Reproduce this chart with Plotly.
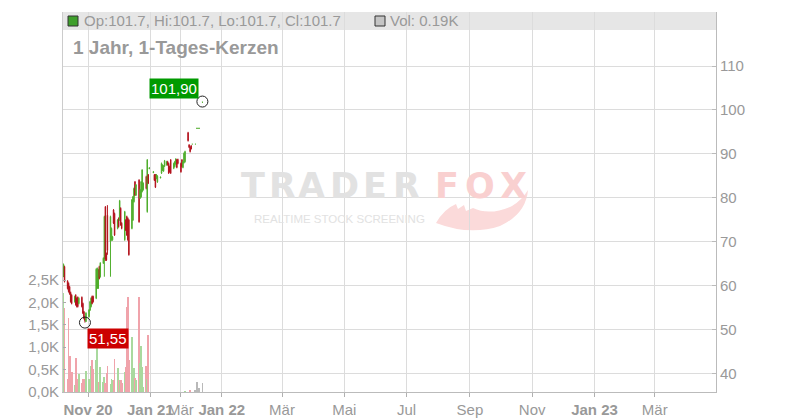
import plotly.graph_objects as go

# ---------------- data ----------------
dates = [
    "2020-10-08", "2020-10-09", "2020-10-12", "2020-10-13", "2020-10-14", "2020-10-15", "2020-10-16",
    "2020-10-19", "2020-10-20", "2020-10-21", "2020-10-22", "2020-10-23",
    "2020-10-26", "2020-10-27", "2020-10-28", "2020-10-29", "2020-10-30",
    "2020-11-02", "2020-11-03", "2020-11-04", "2020-11-05", "2020-11-06",
    "2020-11-09", "2020-11-10", "2020-11-11", "2020-11-12", "2020-11-13",
    "2020-11-16", "2020-11-17", "2020-11-18", "2020-11-19", "2020-11-20",
    "2020-11-23", "2020-11-24", "2020-11-25", "2020-11-26", "2020-11-27",
    "2020-11-30", "2020-12-01", "2020-12-02", "2020-12-03", "2020-12-04",
    "2020-12-07", "2020-12-08", "2020-12-09", "2020-12-10", "2020-12-11",
    "2020-12-14", "2020-12-15", "2020-12-16", "2020-12-17", "2020-12-18",
    "2020-12-21", "2020-12-22", "2020-12-23", "2020-12-24", "2020-12-25",
    "2020-12-28", "2020-12-29", "2020-12-30", "2020-12-31",
    "2021-01-04", "2021-01-05", "2021-01-06", "2021-01-07", "2021-01-08",
    "2021-01-11", "2021-01-12", "2021-01-13", "2021-01-14", "2021-01-15",
    "2021-02-15", "2021-02-16", "2021-02-17", "2021-02-18", "2021-02-19",
    "2021-02-22", "2021-02-23", "2021-02-24", "2021-02-25", "2021-02-26",
    "2021-03-01", "2021-03-02", "2021-03-03", "2021-03-04", "2021-03-05",
    "2021-03-08", "2021-03-09", "2021-03-10", "2021-03-11", "2021-03-12",
    "2021-03-15", "2021-03-16", "2021-03-17", "2021-03-18", "2021-03-19",
    "2021-03-22",
]

open_ = [
    62.2, 64.3, 61.0, 60.5, 59.7, 58.4, 57.8,
    56.3, 57.8, 57.1, 57.3, 55.9,
    57.3, 55.9, 54.0, 52.8, 51.8,
    52.9, 54.4, 55.2, 57.5, 57.5,
    57.1, 59.4, 59.4, 64.3, 62.0,
    65.1, 66.0, 77.9, 67.3, 76.0,
    70.0, 70.4, 70.4, 77.2, 76.4,
    73.0, 75.3, 74.9, 77.6, 74.2,
    70.4, 74.9, 75.7, 75.3, 74.9,
    73.0, 74.9, 79.1, 83.6, 80.6,
    84.0, 79.9, 80.2, 81.4, 81.8,
    84.8, 76.8, 85.2, 86.6,
    85.7, 85.2, 85.2, 84.4, 83.6,
    84.5, 85.6, 86.3, 86.1, 87.2,
    87.5, 88.2, 87.8, 87.1, 88.6,
    86.7, 87.1, 87.7, 88.6, 88.7,
    87.8, 88.6, 86.9, 88.0, 88.2,
    94.8, 92.0, 91.5, 91.8, 92.2,
    92.2, 95.8, 95.8, 95.8, 95.8,
    101.7,
]
high = [
    65.0, 64.5, 61.2, 60.7, 59.9, 58.6, 58.0,
    57.7, 58.0, 57.3, 57.5, 57.3,
    57.5, 56.1, 54.2, 53.0, 53.9,
    54.6, 56.5, 57.3, 57.7, 57.7,
    63.9, 64.1, 63.8, 64.5, 65.3,
    66.4, 75.9, 78.1, 67.5, 78.3,
    75.9, 73.2, 71.3, 77.4, 76.6,
    75.1, 75.5, 79.5, 77.8, 74.4,
    77.0, 75.1, 75.9, 75.5, 75.1,
    79.7, 80.4, 82.3, 83.8, 83.1,
    84.2, 82.0, 83.8, 86.5, 83.5,
    85.0, 88.8, 85.4, 86.9,
    86.0, 85.4, 85.4, 85.4, 85.1,
    84.8, 88.0, 87.6, 87.4, 88.6,
    88.4, 88.4, 88.0, 87.3, 88.8,
    88.0, 88.4, 89.0, 88.8, 88.9,
    88.0, 88.8, 88.4, 90.3, 90.7,
    95.0, 92.2, 91.7, 92.0, 92.2,
    92.2, 95.8, 95.8, 95.8, 95.8,
    101.9,
]
low = [
    61.9, 60.7, 59.1, 58.4, 57.9, 56.1, 55.7,
    56.1, 55.4, 55.0, 55.0, 55.7,
    55.0, 53.5, 52.3, 51.55, 51.7,
    52.7, 54.2, 55.0, 55.7, 56.1,
    56.9, 59.2, 59.2, 61.4, 61.8,
    64.9, 62.0, 65.6, 65.6, 67.0,
    62.0, 70.2, 70.2, 74.0, 71.3,
    72.8, 73.2, 74.7, 73.6, 72.8,
    70.2, 72.4, 71.3, 70.2, 66.8,
    72.8, 74.7, 78.9, 80.4, 80.4,
    74.3, 79.7, 80.0, 81.2, 81.6,
    81.9, 76.6, 83.1, 86.5,
    85.6, 83.8, 82.2, 84.2, 83.4,
    84.4, 85.4, 86.1, 85.9, 87.0,
    87.3, 87.3, 85.4, 85.7, 85.4,
    86.5, 86.9, 87.5, 86.7, 87.6,
    85.7, 86.9, 86.7, 87.8, 88.0,
    92.8, 91.3, 90.3, 91.0, 92.2,
    92.2, 95.8, 95.8, 95.8, 95.8,
    101.7,
]
close = [
    64.8, 60.9, 59.3, 58.6, 58.1, 56.3, 55.9,
    57.5, 55.6, 55.2, 55.2, 57.1,
    55.2, 53.7, 52.5, 52.0, 53.7,
    54.4, 56.3, 57.1, 55.9, 56.3,
    63.7, 63.9, 63.6, 61.6, 65.1,
    66.2, 75.7, 66.0, 65.8, 68.0,
    75.7, 73.0, 71.1, 74.2, 71.5,
    74.9, 73.4, 79.3, 73.8, 73.0,
    76.8, 72.6, 71.5, 70.4, 67.0,
    79.5, 80.2, 82.1, 80.6, 82.9,
    74.5, 81.8, 83.6, 86.3, 83.3,
    82.1, 88.6, 83.3, 86.8,
    85.9, 84.0, 82.4, 85.2, 84.9,
    84.7, 87.8, 87.4, 87.2, 88.4,
    88.2, 87.5, 85.6, 85.9, 85.6,
    87.8, 88.2, 88.8, 86.9, 87.8,
    85.9, 87.1, 88.2, 90.1, 90.5,
    93.0, 91.5, 90.5, 91.1, 92.2,
    92.2, 95.8, 95.8, 95.8, 95.8,
    101.7,
]
volume = [
    2200, 1870, 290, 1650, 800, 290, 450,
    150, 770, 105, 290, 395,
    193, 290, 268, 298, 476,
    290, 89, 580, 714, 513,
    714, 1400, 119, 223, 551,
    231, 327, 193, 432, 588,
    171, 300, 268, 268, 744,
    528, 268, 268, 268, 200,
    454, 565, 1890, 2113, 714,
    1235, 300, 543, 305, 268,
    2128, 640, 1027, 565, 120,
    580, 290, 1272, 0,
    0, 0, 0, 0, 0,
    0, 0, 0, 0, 0,
    0, 0, 0, 0, 0,
    0, 0, 0, 0, 0,
    0, 0, 0, 0, 20,
    0, 0, 30, 0, 0,
    45, 0, 225, 45, 97,
    190,
]

vol_ticks = [0, 500, 1000, 1500, 2000, 2500]
vol_ticktext = ["0,0K", "0,5K", "1,0K", "1,5K", "2,0K", "2,5K"]
price_ticks = [40, 50, 60, 70, 80, 90, 100, 110]

x_tickvals = ["2020-11-01", "2021-01-01", "2021-03-01", "2022-01-01", "2022-03-01",
              "2022-05-01", "2022-07-01", "2022-09-01", "2022-11-01", "2023-01-01", "2023-03-01"]
x_ticktext = ["<b>Nov 20</b>", "<b>Jan 21</b>", "Mär", "<b>Jan 22</b>", "Mär",
              "Mai", "Jul", "Sep", "Nov", "<b>Jan 23</b>", "Mär"]

header_ohlc = "Op:101.7, Hi:101.7, Lo:101.7, Cl:101.7"
header_vol = "Vol: 0.19K"
title_text = "<b>1 Jahr, 1-Tages-Kerzen</b>"

# ---------------- styling ----------------
FONT = "Liberation Sans, Arial, sans-serif"
GREY_TXT = "#999999"
GRID = "#dcdcdc"
C_UP = "#4fae2c"
C_DN = "#b3121c"
V_UP = "#a9d99e"
V_DN = "#f0a3ab"
V_EQ = "#b9b9b9"

vol_colors = []
for o, c in zip(open_, close):
    if c > o:
        vol_colors.append(V_UP)
    elif c < o:
        vol_colors.append(V_DN)
    else:
        vol_colors.append(V_EQ)

i_max = max(range(len(high)), key=lambda i: high[i])
i_min = min(range(len(low)), key=lambda i: low[i])

DAY_MS = 86400000

fig = go.Figure()

fig.add_trace(go.Bar(
    x=dates, y=volume, yaxis="y", marker=dict(color=vol_colors, line=dict(width=0)),
    width=DAY_MS * 0.75, hoverinfo="skip", showlegend=False,
))

fig.add_trace(go.Candlestick(
    x=dates, open=open_, high=high, low=low, close=close, yaxis="y2",
    increasing=dict(line=dict(color=C_UP, width=1), fillcolor=C_UP),
    decreasing=dict(line=dict(color=C_DN, width=1), fillcolor=C_DN),
    whiskerwidth=0, showlegend=False,
))

fig.add_trace(go.Scatter(
    x=[dates[i_max], dates[i_min]], y=[high[i_max], low[i_min]], yaxis="y2",
    mode="markers",
    marker=dict(symbol="circle-open", size=11, color="#222222", line=dict(width=1)),
    hoverinfo="skip", showlegend=False,
))

# The page body has an 8px margin, so the figure's origin sits at (8, 8) on screen.
OFF = 8
FIG_W, FIG_H = 800 - OFF, 420 - OFF
# plot area in screen pixels: x 63..716, y 12..392
L, R, T, B = 63, 716, 12, 392
W, H = R - L, B - T


def px(xp):
    return (xp - L) / W


def py(yp):
    return (B - yp) / H


def path_from(points):
    # points: list of (cmd, [(x, y), ...]) in screen pixels
    parts = []
    for cmd, pts in points:
        coords = " ".join(f"{px(x):.5f},{py(y):.5f}" for x, y in pts)
        parts.append(f"{cmd} {coords}")
    return " ".join(parts) + " Z"


fox_tail = path_from([
    ("M", [(436, 223)]),
    ("Q", [(444, 209), (456, 204)]),
    ("L", [(458, 209)]),
    ("L", [(464, 205)]),
    ("L", [(466, 211)]),
    ("L", [(473, 208)]),
    ("Q", [(490, 216), (512, 206)]),
    ("Q", [(522, 200), (528, 190)]),
    ("Q", [(526, 214), (500, 226)]),
    ("Q", [(470, 236), (436, 223)]),
])

shapes = [
    dict(type="rect", xref="paper", yref="paper", x0=0, x1=1, y0=py(30), y1=1,
         fillcolor="#e6e6e6", line=dict(width=0), layer="below"),
    dict(type="path", xref="paper", yref="paper", path=fox_tail,
         fillcolor="#fbdada", line=dict(width=0), layer="below"),
    dict(type="rect", xref="paper", yref="paper", x0=px(68), x1=px(78), y0=py(26), y1=py(16),
         fillcolor="#3f9f2c", line=dict(color="#333333", width=1)),
    dict(type="rect", xref="paper", yref="paper", x0=px(375), x1=px(385), y0=py(26), y1=py(16),
         fillcolor="#c4c4c4", line=dict(color="#333333", width=1)),
]

annotations = [
    dict(xref="paper", yref="paper", x=px(82), y=py(21), text=header_ohlc, showarrow=False,
         xanchor="left", yanchor="middle", font=dict(family=FONT, size=15, color=GREY_TXT)),
    dict(xref="paper", yref="paper", x=px(388), y=py(21), text=header_vol, showarrow=False,
         xanchor="left", yanchor="middle", font=dict(family=FONT, size=15, color=GREY_TXT)),
    dict(xref="paper", yref="paper", x=px(71), y=py(48), text=title_text, showarrow=False,
         xanchor="left", yanchor="middle", font=dict(family=FONT, size=19, color=GREY_TXT)),
    dict(x=dates[i_max], y=high[i_max], xref="x", yref="y2",
         text=f"{high[i_max]:.2f}".replace(".", ","), showarrow=False,
         xanchor="right", yanchor="bottom", xshift=-3, yshift=3,
         bgcolor="#009a00", borderpad=1, font=dict(family=FONT, size=15, color="white")),
    dict(x=dates[i_min], y=low[i_min], xref="x", yref="y2",
         text=f"{low[i_min]:.2f}".replace(".", ","), showarrow=False,
         xanchor="left", yanchor="top", xshift=2, yshift=-5,
         bgcolor="#cc0000", borderpad=1, font=dict(family=FONT, size=15, color="white")),
]

# watermark
wm_letters = ["T", "R", "A", "D", "E", "R", "F", "O", "X"]
wm_centers = [253, 282, 311, 344, 375, 406, 447, 480, 513]
for ch, cx in zip(wm_letters, wm_centers):
    col = "#e2e2e2" if cx < 430 else "#f9d0d0"
    annotations.append(dict(xref="paper", yref="paper", x=px(cx), y=py(186), text=f"<b>{ch}</b>",
                            showarrow=False, xanchor="center", yanchor="middle",
                            font=dict(family="DejaVu Sans, sans-serif", size=35, color=col)))
annotations.append(dict(xref="paper", yref="paper", x=px(339), y=py(219),
                        text="REALTIME STOCK SCREENING", showarrow=False,
                        xanchor="center", yanchor="middle",
                        font=dict(family=FONT, size=11.5, color="#e2e2e2")))

fig.update_layout(
    width=FIG_W, height=FIG_H,
    margin=dict(l=L - OFF, r=FIG_W - (R - OFF), t=T - OFF, b=FIG_H - (B - OFF),
                pad=0, autoexpand=False),
    paper_bgcolor="white", plot_bgcolor="white",
    showlegend=False, bargap=0,
    font=dict(family=FONT, size=15, color=GREY_TXT),
    shapes=shapes, annotations=annotations,
    xaxis=dict(
        type="date", range=["2020-10-07 12:00", "2023-04-30"],
        rangebreaks=[dict(bounds=["2021-01-16", "2021-02-14"]),
                     dict(bounds=["2021-03-24", "2021-12-15"])],
        tickmode="array", tickvals=x_tickvals, ticktext=x_ticktext, tickangle=0,
        automargin=False,
        showgrid=True, gridcolor=GRID, gridwidth=1,
        ticks="outside", ticklen=4, tickcolor="#b0b0b0",
        showline=True, linecolor="#bbbbbb", linewidth=1,
        tickfont=dict(family=FONT, size=15, color=GREY_TXT),
        rangeslider=dict(visible=False), zeroline=False,
    ),
    yaxis=dict(
        side="left", range=[0, 8482], automargin=False,
        tickmode="array", tickvals=vol_ticks, ticktext=vol_ticktext,
        showgrid=False, zeroline=False,
        ticks="inside", ticklen=3, tickcolor="#aaaaaa",
        showline=True, linecolor="#cccccc", linewidth=1,
        tickfont=dict(family=FONT, size=15, color=GREY_TXT),
    ),
    yaxis2=dict(
        overlaying="y", side="right", range=[35.74, 122.3], automargin=False,
        tickmode="array", tickvals=price_ticks,
        showgrid=True, gridcolor=GRID, gridwidth=1, zeroline=False,
        ticks="inside", ticklen=4, tickcolor="#bbbbbb",
        showline=True, linecolor="#bbbbbb", linewidth=1,
        tickfont=dict(family=FONT, size=15, color=GREY_TXT),
    ),
)

fig.write_html("out.html")
